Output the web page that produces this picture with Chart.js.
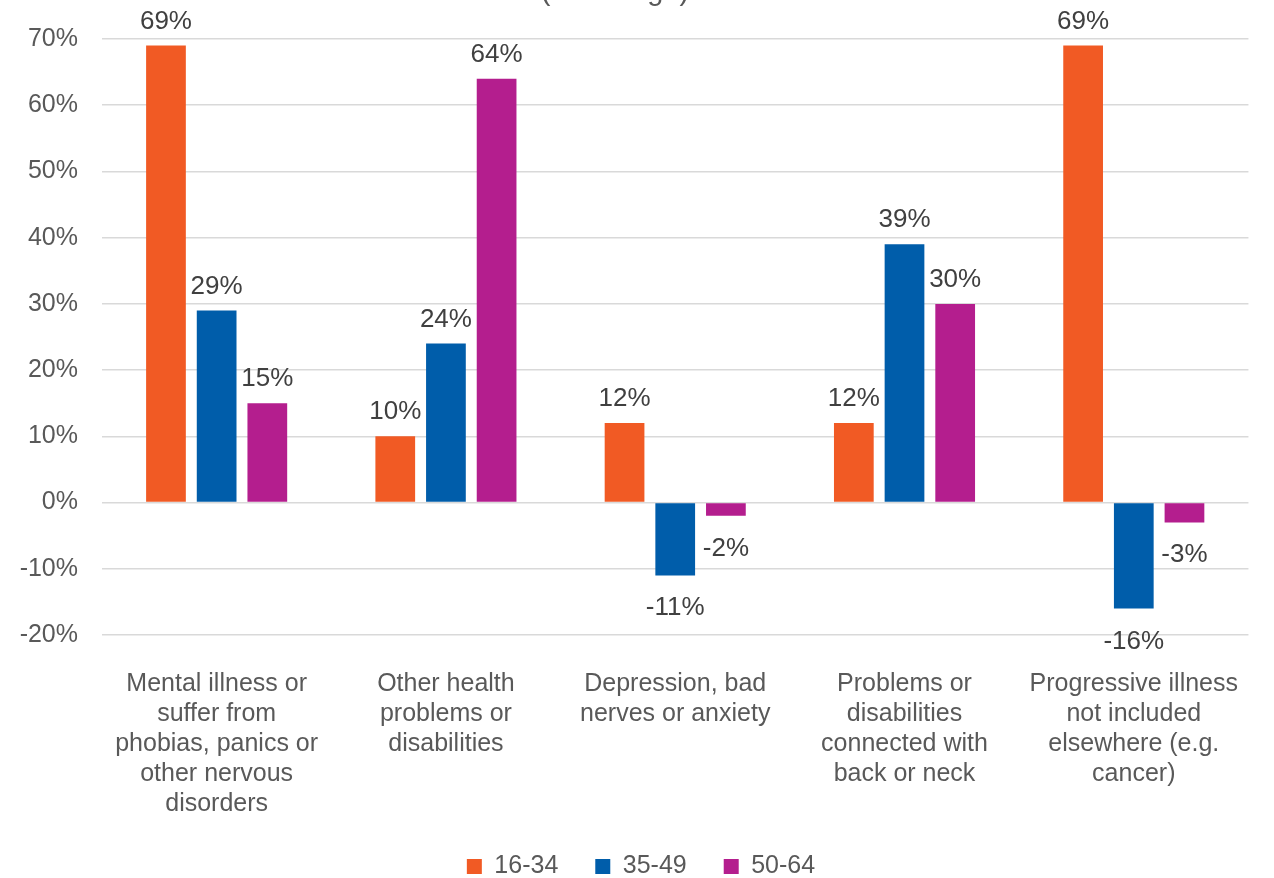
<!DOCTYPE html>
<html>
<head>
<meta charset="utf-8">
<script src="https://cdn.jsdelivr.net/npm/chart.js@4/dist/chart.umd.min.js"></script>
<style>
    html, body { margin: 0; padding: 0; background: #fff; overflow: hidden; }
    #wrap { width: 1274px; height: 889px; position: relative; }
</style>
</head>
<body>
<div id="wrap"><canvas id="changeChart"></canvas></div>
<script>
// categories (multi-line axis labels)
const categories = [
    ['Mental illness or', 'suffer from', 'phobias, panics or', 'other nervous', 'disorders'],
    ['Other health', 'problems or', 'disabilities'],
    ['Depression, bad', 'nerves or anxiety'],
    ['Problems or', 'disabilities', 'connected with', 'back or neck'],
    ['Progressive illness', 'not included', 'elsewhere (e.g.', 'cancer)']
];

// % change by age group
const age16to34 = [69, 10, 12, 12, 69];
const age35to49 = [29, 24, -11, 39, -16];
const age50to64 = [15, 64, -2, 30, -3];

const seriesNames = ['16-34', '35-49', '50-64'];
const seriesColors = ['#F15A24', '#005DAA', '#B41E8E'];

const yTicks = [-20, -10, 0, 10, 20, 30, 40, 50, 60, 70];

const FONT = '"Liberation Sans", Arial, sans-serif';

// value labels above/below each bar
const barLabels = {
    id: 'barLabels',
    afterDatasetsDraw(chart) {
        const ctx = chart.ctx;
        ctx.save();
        ctx.font = '26px ' + FONT;
        ctx.fillStyle = '#404040';
        ctx.textAlign = 'center';
        ctx.textBaseline = 'alphabetic';
        chart.data.datasets.forEach((ds, i) => {
            chart.getDatasetMeta(i).data.forEach((bar, j) => {
                const v = ds.data[j];
                const y = v >= 0 ? bar.y - 17 : bar.y + 40;
                ctx.fillText(v + '%', bar.x, y);
            });
        });
        ctx.restore();
    }
};

// heading line, mostly above the top edge
const topHeading = {
    id: 'topHeading',
    afterDraw(chart) {
        const ctx = chart.ctx;
        ctx.save();
        ctx.font = '29px ' + FONT;
        ctx.fillStyle = '#595959';
        ctx.textAlign = 'center';
        ctx.textBaseline = 'alphabetic';
        ctx.fillText('(% change)', 615, -0.5);
        ctx.restore();
    }
};

// nudge the legend row a little to the right
const legendShift = {
    id: 'legendShift',
    afterLayout(chart) {
        if (chart.legend) {
            chart.legend.left += 14;
            chart.legend.right += 14;
        }
    }
};

new Chart(document.getElementById('changeChart'), {
    type: 'bar',
    data: {
        labels: categories,
        datasets: [
            { label: seriesNames[0], data: age16to34, backgroundColor: seriesColors[0] },
            { label: seriesNames[1], data: age35to49, backgroundColor: seriesColors[1] },
            { label: seriesNames[2], data: age50to64, backgroundColor: seriesColors[2] }
        ]
    },
    options: {
        responsive: true,
        maintainAspectRatio: false,
        animation: false,
        categoryPercentage: 0.663,
        barPercentage: 0.784,
        layout: { padding: { top: 38, right: 20, left: 0, bottom: 0 } },
        plugins: {
            legend: {
                position: 'bottom',
                labels: {
                    boxWidth: 15,
                    boxHeight: 15,
                    padding: 37,
                    color: '#595959',
                    font: { family: FONT, size: 25 }
                }
            },
            tooltip: { enabled: false },
            title: { display: false }
        },
        scales: {
            x: {
                grid: { display: false, drawTicks: false },
                border: { display: false },
                afterFit(scale) { scale.height = 182; },
                ticks: {
                    color: '#595959',
                    padding: 34,
                    maxRotation: 0,
                    autoSkip: false,
                    font: { family: FONT, size: 25, lineHeight: 1.2 }
                }
            },
            y: {
                min: yTicks[0],
                max: yTicks[yTicks.length - 1],
                afterBuildTicks(scale) {
                    scale.ticks = yTicks.map(v => ({ value: v }));
                },
                afterFit(scale) { scale.width = 102; },
                grid: { color: '#D9D9D9', lineWidth: 1.5, drawTicks: false },
                border: { display: false },
                ticks: {
                    color: '#595959',
                    padding: 24,
                    font: { family: FONT, size: 25 },
                    callback: v => v + '%'
                }
            }
        }
    },
    plugins: [barLabels, topHeading, legendShift]
});
</script>
</body>
</html>
